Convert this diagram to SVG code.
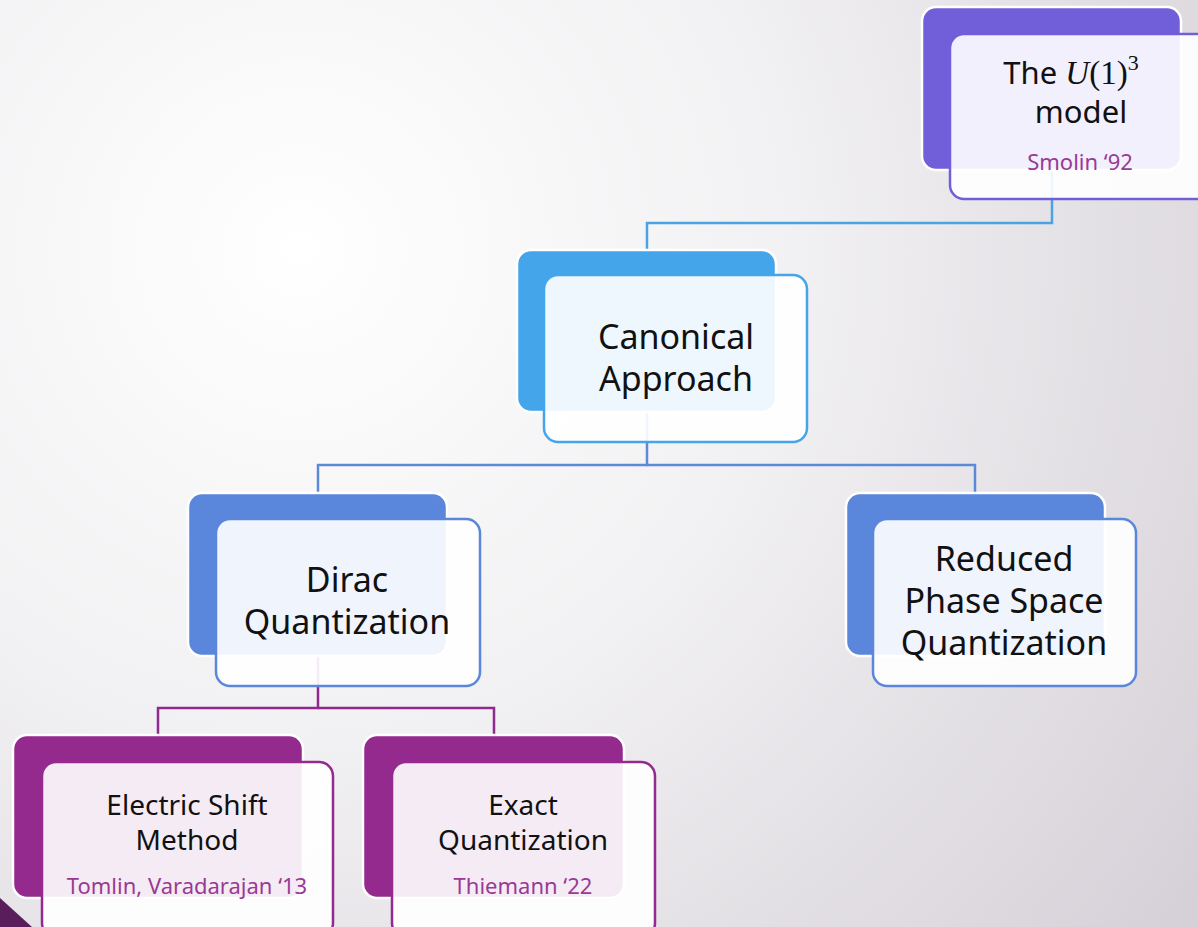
<svg xmlns="http://www.w3.org/2000/svg" width="1198" height="927" viewBox="0 0 1198 927">
  <defs>
    <radialGradient id="bg" cx="300" cy="250" r="1100" gradientUnits="userSpaceOnUse">
      <stop offset="0" stop-color="#ffffff"/>
      <stop offset="0.45" stop-color="#f1f0f2"/>
      <stop offset="1" stop-color="#d6d1d8"/>
    </radialGradient>
    <style>
      .back { stroke: #ffffff; stroke-width: 2.5; }
      .front { fill: #ffffff; fill-opacity: 0.91; stroke-width: 2.5; }
      .t { font-family: "Noto Sans", "Open Sans", sans-serif; fill: #111111; text-anchor: middle; }
      .sub { font-family: "Noto Sans", "Open Sans", sans-serif; fill: #993a94; text-anchor: middle; font-size: 22px; }
      .conn { fill: none; stroke-width: 2.5; }
    </style>
  </defs>
  <rect x="0" y="0" width="1198" height="927" fill="url(#bg)"/>
  <polygon points="0,898 32,927 0,927" fill="#5a1d5c"/>

  <g id="connectors">
    <polyline class="conn" stroke="#4aa3e3" points="1052,170 1052,223 647,223 647,250"/>
    <polyline class="conn" stroke="#5b8ad9" points="647,412 647,465 318,465 318,493"/>
    <polyline class="conn" stroke="#5b8ad9" points="647,465 975,465 975,493"/>
    <polyline class="conn" stroke="#8e2a8c" points="318,656 318,708 158,708 158,735"/>
    <polyline class="conn" stroke="#8e2a8c" points="318,708 494,708 494,735"/>
  </g>

  <g id="node-u13">
    <rect class="back" x="922" y="7" width="259" height="163" rx="14" fill="#715fd9"/>
    <rect class="front" x="950" y="34" width="262" height="165" rx="14" stroke="#715fd9"/>
    <text x="1071" y="84" font-size="31" fill="#111" text-anchor="middle"><tspan font-family="Noto Sans, sans-serif">The </tspan><tspan font-family="Liberation Serif, serif" font-style="italic" font-size="33">U</tspan><tspan font-family="Liberation Serif, serif" font-size="33">(1)</tspan><tspan font-family="Liberation Serif, serif" font-size="22" dy="-14">3</tspan></text>
    <text class="t" x="1081" y="123" font-size="31">model</text>
    <text class="sub" x="1080" y="170">Smolin ‘92</text>
  </g>

  <g id="node-canonical">
    <rect class="back" x="517" y="250" width="259" height="162" rx="14" fill="#45a5ea"/>
    <rect class="front" x="544" y="275" width="263" height="167" rx="14" stroke="#45a5ea"/>
    <text class="t" x="676" y="349" font-size="34">Canonical</text>
    <text class="t" x="676" y="391" font-size="34">Approach</text>
  </g>

  <g id="node-dirac">
    <rect class="back" x="188" y="493" width="259" height="163" rx="14" fill="#5a86db"/>
    <rect class="front" x="216" y="519" width="264" height="167" rx="14" stroke="#5a86db"/>
    <text class="t" x="347" y="592" font-size="34">Dirac</text>
    <text class="t" x="347" y="634" font-size="34">Quantization</text>
  </g>

  <g id="node-reduced">
    <rect class="back" x="846" y="493" width="259" height="163" rx="14" fill="#5a86db"/>
    <rect class="front" x="873" y="519" width="263" height="167" rx="14" stroke="#5a86db"/>
    <text class="t" x="1004" y="571" font-size="34">Reduced</text>
    <text class="t" x="1004" y="613" font-size="34">Phase Space</text>
    <text class="t" x="1004" y="655" font-size="34">Quantization</text>
  </g>

  <g id="node-electric">
    <rect class="back" x="13" y="735" width="290" height="163" rx="14" fill="#952a8e"/>
    <rect class="front" x="42" y="762" width="291" height="175" rx="14" stroke="#952a8e"/>
    <text class="t" x="187" y="815" font-size="28">Electric Shift</text>
    <text class="t" x="187" y="850" font-size="28">Method</text>
    <text class="sub" x="187" y="894">Tomlin, Varadarajan ‘13</text>
  </g>

  <g id="node-exact">
    <rect class="back" x="363" y="735" width="261" height="163" rx="14" fill="#952a8e"/>
    <rect class="front" x="392" y="762" width="263" height="175" rx="14" stroke="#952a8e"/>
    <text class="t" x="523" y="815" font-size="28">Exact</text>
    <text class="t" x="523" y="850" font-size="28">Quantization</text>
    <text class="sub" x="523" y="894">Thiemann ‘22</text>
  </g>
</svg>
